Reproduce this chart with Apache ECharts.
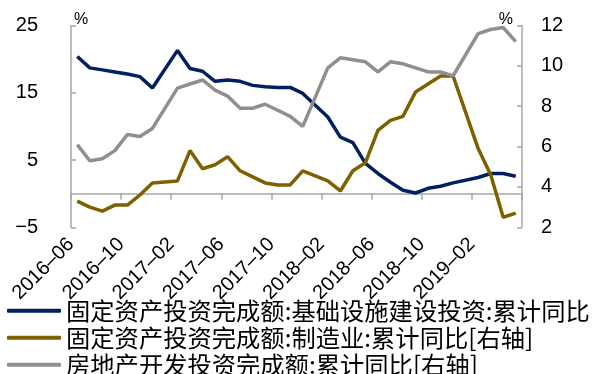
<!DOCTYPE html>
<html>
<head>
<meta charset="utf-8">
<style>html,body{margin:0;padding:0;background:#fff}#c{width:594px;height:374px}</style>
<script src="https://cdn.jsdelivr.net/npm/echarts@6/dist/echarts.min.js"></script>
</head>
<body>
<div id="c"></div>
<script>
// Months with data (January is not reported separately)
const months = ['2016-06','2016-07','2016-08','2016-09','2016-10','2016-11','2016-12',
  '2017-02','2017-03','2017-04','2017-05','2017-06','2017-07','2017-08','2017-09','2017-10','2017-11','2017-12',
  '2018-02','2018-03','2018-04','2018-05','2018-06','2018-07','2018-08','2018-09','2018-10','2018-11','2018-12',
  '2019-02','2019-03','2019-04','2019-05'];
const infra = [20.4,18.7,18.4,18.1,17.8,17.4,15.7,
  21.3,18.6,18.2,16.7,16.9,16.7,16.1,15.9,15.8,15.8,14.9,
  11.4,8.4,7.6,4.5,3.0,1.7,0.5,0.1,0.8,1.1,1.6,
  2.4,3.0,3.0,2.6];
const manuf = [3.3,3.0,2.8,3.1,3.1,3.6,4.2,
  4.3,5.8,4.9,5.1,5.5,4.8,4.5,4.2,4.1,4.1,4.8,
  4.3,3.8,4.8,5.2,6.8,7.3,7.5,8.7,9.1,9.5,9.5,
  5.9,4.6,2.5,2.7];
const estate = [6.1,5.3,5.4,5.8,6.6,6.5,6.9,
  8.9,9.1,9.3,8.8,8.5,7.9,7.9,8.1,7.8,7.5,7.0,
  9.9,10.4,10.3,10.2,9.7,10.2,10.1,9.9,9.7,9.7,9.5,
  11.6,11.8,11.9,11.2];
const seriesNames = ['固定资产投资完成额:基础设施建设投资:累计同比','固定资产投资完成额:制造业:累计同比[右轴]','房地产开发投资完成额:累计同比[右轴]'];
const xTickLabels = ['2016-06','2016-10','2017-02','2017-06','2017-10','2018-02','2018-06','2018-10','2019-02'];
const startYear = 2016, startMonth = 6;

function idx(s){ const [y,m] = s.split('-').map(Number); return (y-startYear)*12 + (m-startMonth); }
function pts(vals){ return months.map((s,i)=>[idx(s)+0.5, vals[i]]); }

const axisColor = '#a6a6a6';
const font = 'Liberation Sans, Arial, sans-serif';
const chart = echarts.init(document.getElementById('c'));
chart.setOption({
  animation:false,
  grid:{left:71, right:72, top:25.5, bottom:146.7, containLabel:false, outerBoundsMode:'none'},
  legend:{
    orient:'vertical', left:7, top:298.6, height:200, padding:0, itemGap:2.7,
    itemWidth:54, itemHeight:4, icon:'roundRect',
    textStyle:{fontSize:24.3, fontFamily:'Noto Sans CJK SC', color:'#000', padding:[0,0,0,0]},
    data:seriesNames
  },
  xAxis:{
    type:'value', min:0, max:36, interval:4,
    axisLine:{show:true, onZero:true, onZeroAxisIndex:0, lineStyle:{color:axisColor, width:1.5}},
    axisTick:{show:true, inside:false, length:6, lineStyle:{color:axisColor, width:1.5}},
    splitLine:{show:false},
    axisLabel:{rotate:45, margin:14, fontSize:20, fontFamily:font, color:'#000',
      formatter:(v)=>{ const k = Math.round(v/4); return k < xTickLabels.length ? xTickLabels[k].replace('-', '–') : ''; }}
  },
  yAxis:[
    {type:'value', min:-5, max:25, interval:10, position:'left',
     name:'%', nameLocation:'end', nameGap:-2,
     nameTextStyle:{fontSize:16, fontFamily:font, color:'#000', align:'left', padding:[0,0,0,3]},
     axisLine:{show:true, lineStyle:{color:axisColor, width:1.5}},
     axisTick:{show:true, inside:true, length:5, lineStyle:{color:axisColor, width:1.5}},
     splitLine:{show:false},
     axisLabel:{margin:33, fontSize:20, fontFamily:font, color:'#000', formatter:(v)=>String(v).replace('-', '−')}},
    {type:'value', min:2, max:12, interval:2, position:'right',
     name:'%', nameLocation:'end', nameGap:-2,
     nameTextStyle:{fontSize:16, fontFamily:font, color:'#000', align:'right', padding:[0,9,0,0]},
     axisLine:{show:true, lineStyle:{color:axisColor, width:1.5}},
     axisTick:{show:true, inside:true, length:5, lineStyle:{color:axisColor, width:1.5}},
     splitLine:{show:false},
     axisLabel:{margin:19, fontSize:20, fontFamily:font, color:'#000'}}
  ],
  series:[
    {name:seriesNames[0], type:'line', yAxisIndex:0, data:pts(infra), symbol:'none', lineStyle:{color:'#002060', width:3.5}, itemStyle:{color:'#002060'}},
    {name:seriesNames[1], type:'line', yAxisIndex:1, data:pts(manuf), symbol:'none', lineStyle:{color:'#7f6000', width:3.5}, itemStyle:{color:'#7f6000'}},
    {name:seriesNames[2], type:'line', yAxisIndex:1, data:pts(estate), symbol:'none', lineStyle:{color:'#8f8f8f', width:3.5}, itemStyle:{color:'#8f8f8f'}}
  ]
});
</script>
</body>
</html>
